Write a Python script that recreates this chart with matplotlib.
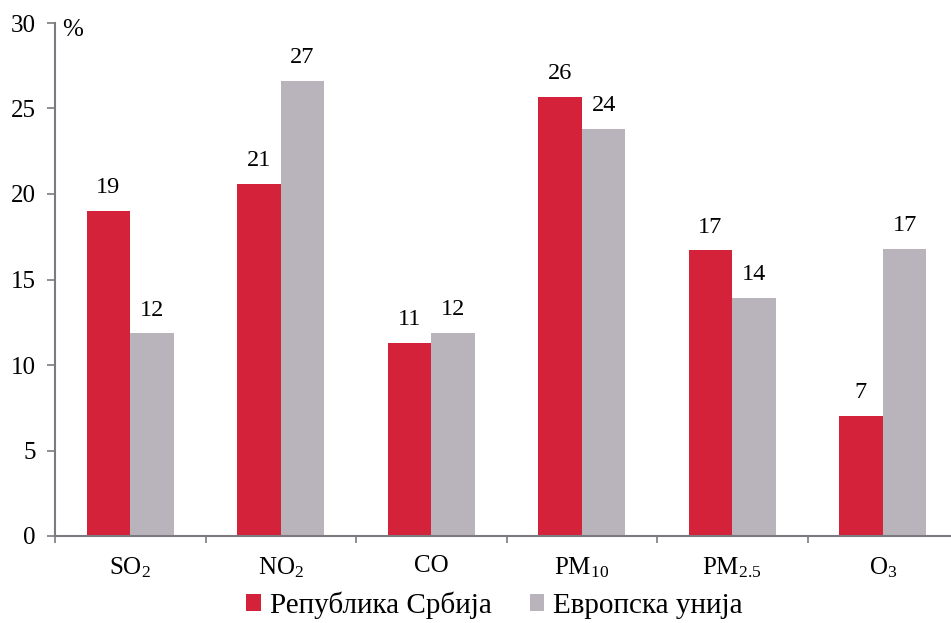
import numpy as np
import matplotlib.pyplot as plt

plt.rcParams['font.family'] = ['Liberation Serif', 'DejaVu Serif']
plt.rcParams['mathtext.fontset'] = 'custom'
plt.rcParams['mathtext.rm'] = 'Liberation Serif'
plt.rcParams['mathtext.it'] = 'Liberation Serif:italic'

categories = [r'SO$_2$', r'NO$_2$', 'CO', r'PM$_{10}$', r'PM$_{2.5}$', r'O$_3$']
serbia = [19.0, 20.6, 11.3, 25.7, 16.7, 7.0]
eu = [11.85, 26.6, 11.9, 23.8, 13.9, 16.8]
series_names = ['Република Србија', 'Европска унија']

red = '#D3223A'
gray = '#B9B3BB'
axcol = '#7A7A80'

fig = plt.figure(figsize=(9.51, 6.23), dpi=100)
ax = fig.add_axes([55/951, 87/623, 903/951, 513/623])

x = np.arange(len(categories))
w = 0.29
b1 = ax.bar(x - w/2, serbia, w, color=red, label=series_names[0])
b2 = ax.bar(x + w/2, eu, w, color=gray, label=series_names[1])

for bars, vals in [(b1, serbia), (b2, eu)]:
    for r, v in zip(bars, vals):
        ax.text(r.get_x() + r.get_width()/2, v + 0.75, f'{v:.0f}',
                ha='center', va='bottom', fontsize=17.5)

ax.set_xlim(-0.5, len(categories) - 0.5)
ax.set_ylim(0, 30)
ax.set_yticks(np.arange(0, 31, 5))
ax.set_xticks(np.arange(-0.5, len(categories), 1.0))
ax.set_xticklabels([])
ax.set_xticks(x, minor=True)
ax.set_xticklabels(categories, minor=True, fontsize=18)
ax.tick_params(axis='x', which='minor', length=0, pad=14)
ax.tick_params(axis='x', which='major', length=5, color=axcol, width=1.2)
ax.tick_params(axis='y', length=6, color=axcol, width=1.2, labelsize=18, pad=8)

for s in ['top', 'right']:
    ax.spines[s].set_visible(False)
for s in ['left', 'bottom']:
    ax.spines[s].set_color(axcol)
    ax.spines[s].set_linewidth(1.5)

ax.text(0.008, 29.6, '%', transform=ax.get_yaxis_transform(), fontsize=18,
        ha='left', va='center')

fig.legend(loc='lower center', bbox_to_anchor=(0.52, -0.035), ncol=2, frameon=False,
           fontsize=21, handlelength=0.5, handleheight=0.5, handletextpad=0.3,
           columnspacing=1.3)

fig.savefig('out.png', dpi=100)
